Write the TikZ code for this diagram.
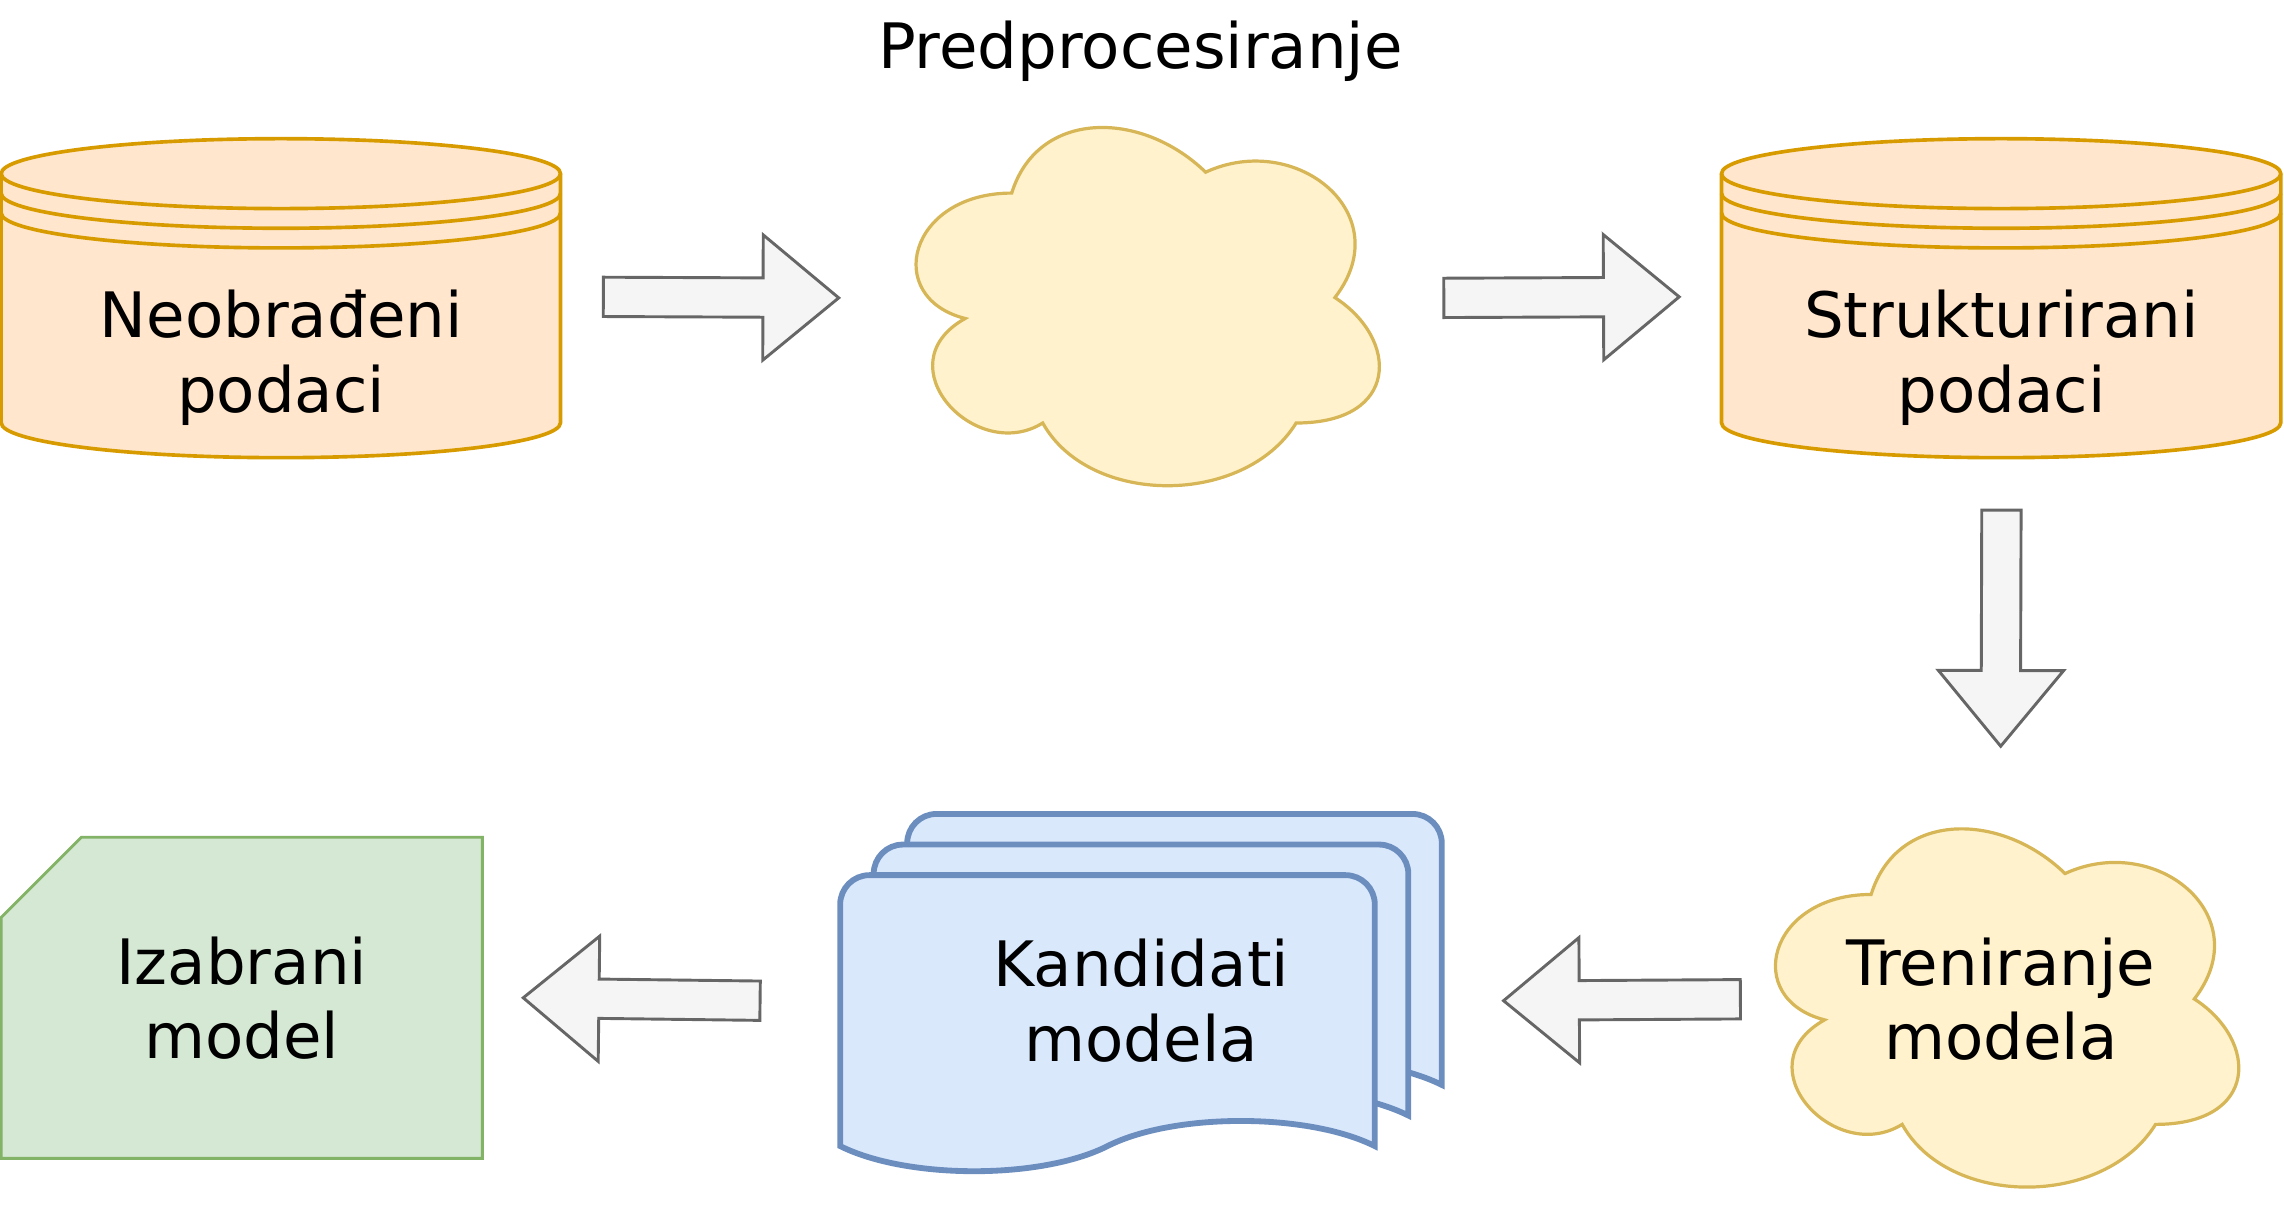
\documentclass[tikz,border=0pt]{standalone}
\usepackage{fontspec}
\setmainfont{DejaVu Sans}
\usepackage{xcolor}
\usepackage{tikz}
\usetikzlibrary{calc,backgrounds}

\definecolor{dsfill}{HTML}{FFE6CC}
\definecolor{dsline}{HTML}{D79B00}
\definecolor{cloudfill}{HTML}{FFF2CC}
\definecolor{cloudline}{HTML}{D6B656}
\definecolor{arrowfill}{HTML}{F5F5F5}
\definecolor{arrowline}{HTML}{666666}
\definecolor{docfill}{HTML}{DAE8FC}
\definecolor{docline}{HTML}{6C8EBF}
\definecolor{cardfill}{HTML}{D5E8D4}
\definecolor{cardline}{HTML}{82B366}

% data store (cylinder with two extra rings), #1 = node
\newcommand{\datastore}[1]{%
  \begin{scope}[shift={($(#1.south west)+(0,-219)$)}]
  \filldraw[dsstyle] (0,24) -- (0,195) .. controls (0,208.25) and (86,219) .. (192,219) .. controls (298,219) and (384,208.25) .. (384,195) -- (384,24) .. controls (384,10.75) and (298,0) .. (192,0) .. controls (86,0) and (0,10.75) .. (0,24) -- cycle;
  \foreach \c in {24,37.5,51}
    \draw[dsstyle, fill=none] (0,\c) .. controls (0,\c+13.25) and (86,\c+24) .. (192,\c+24) .. controls (298,\c+24) and (384,\c+13.25) .. (384,\c);
  \end{scope}}
% cloud, #1 = node
\newcommand{\cloudshape}[1]{%
  \filldraw[cloudstyle, shift={(#1.north west)}, x=355pt, y=-287pt] (0.25,0.25) .. controls (0.05,0.25) and (0,0.5) .. (0.16,0.55) .. controls (0,0.66) and (0.18,0.9) .. (0.31,0.8) .. controls (0.4,1) and (0.7,1) .. (0.8,0.8) .. controls (1,0.8) and (1,0.6) .. (0.875,0.5) .. controls (1,0.3) and (0.8,0.1) .. (0.625,0.2) .. controls (0.5,0.05) and (0.3,0.05) .. (0.25,0.25) -- cycle;}
% one sheet of the document stack, #1 = top left corner
\newcommand{\docsheet}[1]{%
  \filldraw[docstyle, shift={#1}] (0,186) -- (0,20) .. controls (0,9) and (9,0) .. (20,0) -- (347,0) .. controls (358,0) and (367,9) .. (367,20) -- (367,186) .. controls (321,163) and (229,163) .. (183.5,186) .. controls (138,209) and (46,209) .. (0,186) -- cycle;}
% block arrow, #1 = tail, #2 = tip
\newcommand{\fatarrow}[2]{%
  \coordinate (fa-s) at #1;
  \coordinate (fa-t) at #2;
  \coordinate (fa-h) at ($(fa-t)!52pt!(fa-s)$);
  \draw[blockarrow] ($(fa-s)!13.5pt!90:(fa-t)$) -- ($(fa-h)!13.5pt!90:(fa-t)$) -- ($(fa-h)!43pt!90:(fa-t)$) -- (fa-t) -- ($(fa-h)!43pt!-90:(fa-t)$) -- ($(fa-h)!13.5pt!-90:(fa-t)$) -- ($(fa-s)!13.5pt!-90:(fa-t)$) -- cycle;}

\begin{document}
\begin{tikzpicture}[x=1pt,y=-1pt,
  lbl/.style={font=\fontsize{43pt}{51pt}\selectfont, align=center, inner sep=0pt},
  dsstyle/.style={draw=dsline, fill=dsfill, line width=2.5pt},
  cloudstyle/.style={draw=cloudline, fill=cloudfill, line width=2.2pt},
  docstyle/.style={draw=docline, fill=docfill, line width=4pt},
  cardstyle/.style={draw=cardline, fill=cardfill, line width=2pt},
  blockarrow/.style={draw=arrowline, fill=arrowfill, line width=2pt}]
\useasboundingbox (0,0) rectangle (1568,832);
% Labels
\node[lbl] (title) at (783,35) {Predprocesiranje};
\node[lbl, minimum width=384pt, minimum height=137pt] (raw) at (193,245.5) {Neobrađeni\\podaci};
\node[lbl, minimum width=355pt, minimum height=287pt] (prep) at (783.5,204.5) {};
\node[lbl, minimum width=384pt, minimum height=137pt] (struct) at (1374,245.5) {Strukturirani\\podaci};
\node[lbl, minimum width=355pt, minimum height=287pt] (train) at (1373.5,686) {Treniranje\\modela};
\node[lbl, minimum width=413pt, minimum height=236pt] (cands) at (783.5,687) {Kandidati\\modela};
\node[lbl, minimum width=330pt, minimum height=220pt] (chosen) at (166,685) {Izabrani\\model};
% Shapes
\begin{pgfonlayer}{background}
\datastore{raw}
\datastore{struct}
\cloudshape{prep}
\cloudshape{train}
\docsheet{($(cands.north west)+(46,-10)$)}
\docsheet{($(cands.north west)+(23,11)$)}
\docsheet{($(cands.north west)+(0,32)$)}
\filldraw[cardstyle] ($(chosen.north west)+(0,55)$) -- ($(chosen.north west)+(55,0)$) -- (chosen.north east) -- (chosen.south east) -- (chosen.south west) -- cycle;
\end{pgfonlayer}
% Arrows
\fatarrow{($(raw.north east)+(29,27)$)}{($(prep.west)+(-30,0)$)}
\fatarrow{($(prep.east)+(30,0)$)}{($(struct.north west)+(-29,27)$)}
\fatarrow{($(struct.south)+(0,36)$)}{($(train.north)+(0,-30)$)}
\fatarrow{($(train.west)+(-1,0)$)}{($(cands.east)+(42,0)$)}
\fatarrow{($(cands.west)+(-55,0)$)}{($(chosen.east)+(28,0)$)}
\end{tikzpicture}
\end{document}
